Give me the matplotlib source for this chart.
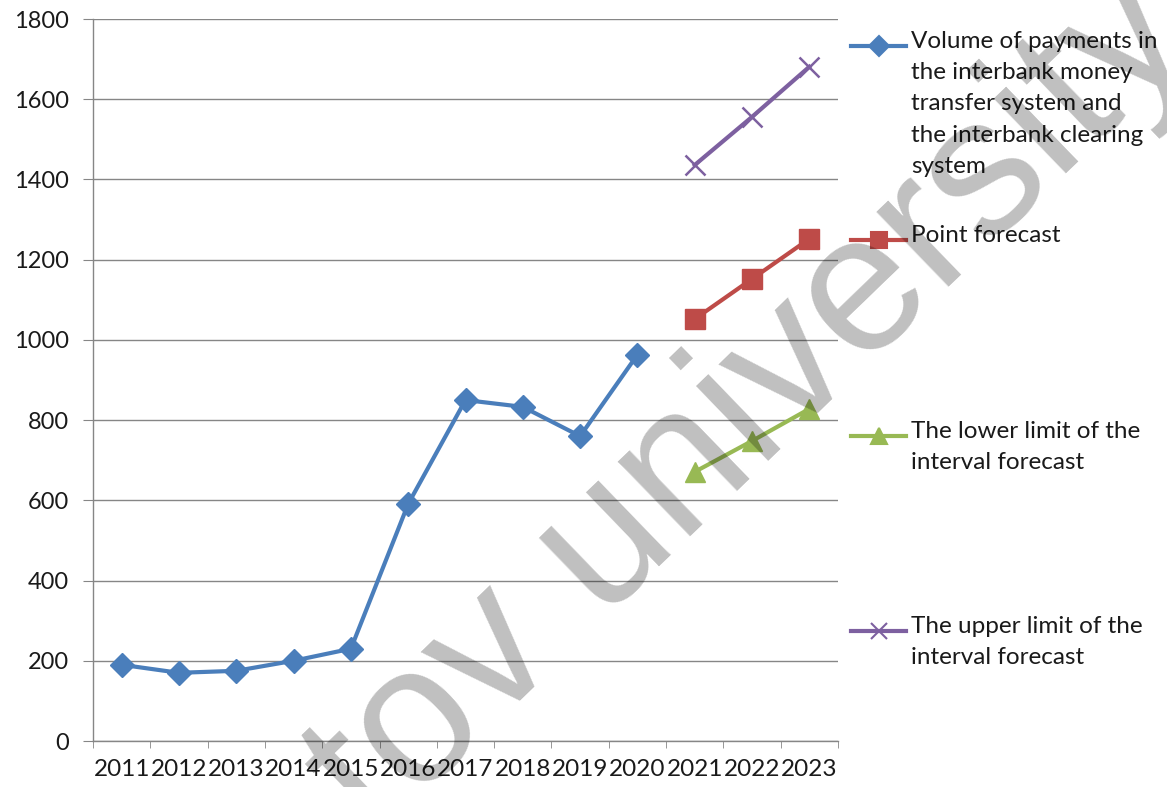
import matplotlib
matplotlib.use("Agg")
import matplotlib.pyplot as plt
from matplotlib.lines import Line2D

years = ["2011", "2012", "2013", "2014", "2015", "2016", "2017",
         "2018", "2019", "2020", "2021", "2022", "2023"]
volume = [190, 170, 175, 200, 230, 591, 850, 833, 760, 963]
forecast_years = ["2021", "2022", "2023"]
point_forecast = [1052, 1152, 1252]
lower_limit = [671, 748, 828]
upper_limit = [1436, 1556, 1681]

labels = [
    "Volume of payments in\nthe interbank money\ntransfer system and\nthe interbank clearing\nsystem",
    "Point forecast",
    "The lower limit of the\ninterval forecast",
    "The upper limit of the\ninterval forecast",
]

plt.rcParams["font.family"] = ["Lato", "DejaVu Sans"]

W, H = 1167, 787
fig = plt.figure(figsize=(W / 100, H / 100), dpi=100)
ax = fig.add_axes([93 / W, 1 - 741 / H, (838 - 93) / W, (741 - 19) / H])

x_all = list(range(len(years)))
x_vol = x_all[:len(volume)]
x_fc = [years.index(y) for y in forecast_years]

blue, red, green, purple = "#4A7EBB", "#BE4B48", "#98B954", "#7D60A0"

ax.plot(x_vol, volume, color=blue, lw=3, marker="D", ms=12, zorder=3)
ax.plot(x_fc, point_forecast, color=red, lw=3, marker="s", ms=14, zorder=3)
ax.plot(x_fc, lower_limit, color=green, lw=3, marker="^", ms=15, zorder=3)
ax.plot(x_fc, upper_limit, color=purple, lw=3, marker="x", ms=15, mew=1.8, zorder=3)

ax.set_xlim(-0.5, len(years) - 0.5)
ax.set_ylim(0, 1800)
ax.set_yticks(range(0, 1801, 200))
ax.set_xticks(x_all)
ax.set_xticklabels(years)
ax.set_xticks([i - 0.5 for i in range(len(years) + 1)], minor=True)
ax.tick_params(axis="x", which="major", length=0, pad=13, labelsize=17.5, colors="#1a1a1a")
ax.tick_params(axis="x", which="minor", length=5, color="#868686", direction="out")
ax.tick_params(axis="y", length=7.5, pad=10, labelsize=17, color="#868686", labelcolor="#1a1a1a")
ax.grid(axis="y", color="#868686", lw=1)
ax.set_axisbelow(True)
for s in ["top", "right"]:
    ax.spines[s].set_visible(False)
for s in ["left", "bottom"]:
    ax.spines[s].set_color("#868686")
    ax.spines[s].set_linewidth(1)

# legend drawn at the right side
styles = [(blue, "D", 10), (red, "s", 12), (green, "^", 12), (purple, "x", 12)]
first_line_y = [46, 240, 436, 631]
for (c, m, ms), lab, yy in zip(styles, labels, first_line_y):
    fy = 1 - yy / H
    fig.add_artist(Line2D([851 / W, 906 / W], [fy, fy], color=c, lw=3))
    fig.add_artist(Line2D([878.5 / W], [fy], color=c, marker=m, ms=ms, mew=1.5, lw=0))
    fig.text(911 / W, 1 - (yy - 15) / H, lab, fontsize=17.5, color="#1a1a1a",
             va="top", ha="left", linespacing=1.6)

# watermark
fig.text(0.644, 0.483, "tov university", fontsize=141, rotation=44,
         family="Liberation Sans", color="black", alpha=0.25,
         ha="center", va="center", rotation_mode="anchor", zorder=10)

fig.savefig("out.png", dpi=100)
